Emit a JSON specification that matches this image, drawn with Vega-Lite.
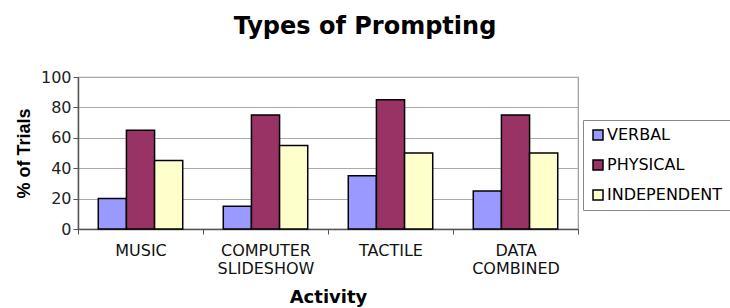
{
  "$schema": "https://vega.github.io/schema/vega-lite/v6.json",
  "width": 500,
  "height": 152,
  "autosize": {"type": "none"},
  "padding": {"left": 78, "top": 77, "right": 152, "bottom": 79},
  "background": "white",
  "title": {
    "text": "Types of Prompting",
    "font": "DejaVu Sans",
    "fontSize": 24,
    "fontWeight": "bold",
    "color": "black",
    "anchor": "middle",
    "dx": 37,
    "offset": 30
  },
  "data": {
    "values": [
      {"activity": "MUSIC", "type": "VERBAL", "pct": 20},
      {"activity": "MUSIC", "type": "PHYSICAL", "pct": 65},
      {"activity": "MUSIC", "type": "INDEPENDENT", "pct": 45},
      {"activity": "COMPUTER SLIDESHOW", "type": "VERBAL", "pct": 15},
      {"activity": "COMPUTER SLIDESHOW", "type": "PHYSICAL", "pct": 75},
      {"activity": "COMPUTER SLIDESHOW", "type": "INDEPENDENT", "pct": 55},
      {"activity": "TACTILE", "type": "VERBAL", "pct": 35},
      {"activity": "TACTILE", "type": "PHYSICAL", "pct": 85},
      {"activity": "TACTILE", "type": "INDEPENDENT", "pct": 50},
      {"activity": "DATA COMBINED", "type": "VERBAL", "pct": 25},
      {"activity": "DATA COMBINED", "type": "PHYSICAL", "pct": 75},
      {"activity": "DATA COMBINED", "type": "INDEPENDENT", "pct": 50}
    ]
  },
  "mark": {"type": "bar", "stroke": "black", "strokeWidth": 1.5},
  "encoding": {
    "x": {
      "field": "activity",
      "type": "nominal",
      "sort": ["MUSIC", "COMPUTER SLIDESHOW", "TACTILE", "DATA COMBINED"],
      "scale": {"paddingInner": 0, "paddingOuter": 0},
      "axis": {
        "title": "Activity",
        "titleFont": "DejaVu Sans",
        "titleFontSize": 18,
        "titleFontWeight": "bold",
        "titleColor": "black",
        "titlePadding": 12,
        "labelAngle": 0,
        "labelFont": "DejaVu Sans",
        "labelFontSize": 16,
        "labelColor": "#111",
        "labelPadding": 8,
        "labelExpr": "split(datum.label, ' ')",
        "labelLineHeight": 18,
        "tickBand": "extent",
        "tickSize": 5,
        "tickColor": "#555",
        "domainColor": "#555",
        "domainWidth": 1.5
      }
    },
    "xOffset": {
      "field": "type",
      "type": "nominal",
      "sort": ["VERBAL", "PHYSICAL", "INDEPENDENT"],
      "scale": {"paddingInner": 0, "paddingOuter": 0.72}
    },
    "y": {
      "field": "pct",
      "type": "quantitative",
      "scale": {"domain": [0, 100]},
      "axis": {
        "title": "% of Trials",
        "titleFont": "Liberation Sans",
        "titleFontSize": 18,
        "titleFontWeight": "bold",
        "titleColor": "black",
        "titlePadding": 7,
        "values": [0, 20, 40, 60, 80, 100],
        "labelFont": "DejaVu Sans",
        "labelFontSize": 16,
        "labelColor": "#222",
        "tickSize": 5,
        "tickColor": "#555",
        "domainColor": "#555",
        "domainWidth": 1.5,
        "gridColor": "#aaa",
        "gridWidth": 1.2
      }
    },
    "color": {
      "field": "type",
      "type": "nominal",
      "sort": ["VERBAL", "PHYSICAL", "INDEPENDENT"],
      "scale": {
        "domain": ["VERBAL", "PHYSICAL", "INDEPENDENT"],
        "range": ["#9999FF", "#993366", "#FFFFCC"]
      },
      "legend": {
        "title": null,
        "orient": "none",
        "legendX": 505,
        "legendY": 43,
        "padding": 7,
        "strokeColor": "#888",
        "fillColor": "white",
        "symbolType": "square",
        "symbolSize": 100,
        "symbolStrokeColor": "black",
        "symbolStrokeWidth": 1.5,
        "symbolOpacity": 1,
        "labelFont": "DejaVu Sans",
        "labelFontSize": 16,
        "labelColor": "black",
        "labelOffset": 1,
        "rowPadding": 14,
        "labelLimit": 200
      }
    }
  },
  "config": {
    "view": {"stroke": "#999", "strokeWidth": 1.2}
  }
}
